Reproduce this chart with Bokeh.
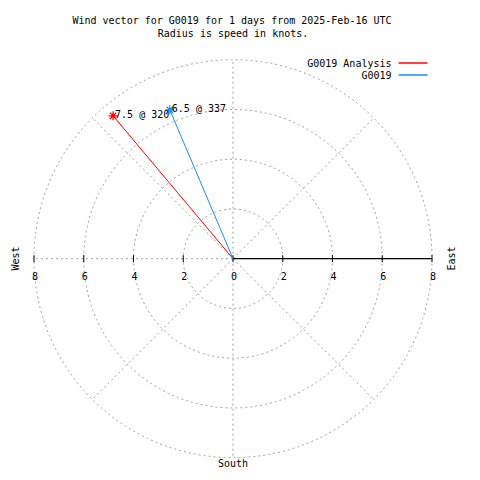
import math
from bokeh.plotting import figure
from bokeh.models import Range1d
from bokeh.core.properties import value
from bokeh.embed import file_html
from bokeh.resources import INLINE

# ---- data ----
series_names = ["G0019 Analysis", "G0019"]
speeds = [7.5, 6.5]          # knots
directions = [320, 337]      # degrees clockwise from north
colors = ["#ff0000", "#1a8cff"]
ring_radii = [2, 4, 6, 8]
spoke_angles = [0, 45, 135, 180, 225, 270, 315]
tick_values = [-8, -6, -4, -2, 0, 2, 4, 6, 8]
tick_labels = ["8", "6", "4", "2", "0", "2", "4", "6", "8"]
title_lines = ["Wind vector for G0019 for 1 days from 2025-Feb-16 UTC",
               "Radius is speed in knots."]
rmax = 8

# ---- layout (reference pixel -> data mapping) ----
W = H = 472
M = 0
cx_ref, cy_ref = 232.5, 258.2
k = 24.875  # pixels per knot

def X(px):
    return (px - cx_ref) / k

def Y(py):
    return (cy_ref - py) / k

FONT = value("DejaVu Sans Mono")
FS = value("10px")
GRID = "#a0a0a0"

p = figure(width=W, height=H, output_backend="svg", toolbar_location=None,
           x_range=Range1d(X(M), X(M + W)), y_range=Range1d(Y(M + H), Y(M)),
           x_axis_location=None, y_axis_location=None, min_border=0,
           background_fill_color="white", border_fill_color="white")
p.outline_line_color = None
p.xgrid.visible = False
p.ygrid.visible = False

# rings
p.circle(x=[0] * len(ring_radii), y=[0] * len(ring_radii), radius=ring_radii,
         fill_color=None, line_color=GRID, line_dash="2 3", line_width=1)

# spokes
sx = [rmax * math.sin(math.radians(a)) for a in spoke_angles]
sy = [rmax * math.cos(math.radians(a)) for a in spoke_angles]
p.segment(x0=[0] * len(sx), y0=[0] * len(sy), x1=sx, y1=sy,
          line_color=GRID, line_dash="2 3", line_width=1)

# east axis (solid) and ticks
p.segment(x0=[0], y0=[0], x1=[rmax], y1=[0], line_color="black", line_width=1.2)
p.segment(x0=tick_values, y0=[-3.5 / k] * len(tick_values),
          x1=tick_values, y1=[3.5 / k] * len(tick_values),
          line_color="black", line_width=1)
p.text(x=tick_values, y=[0] * len(tick_values), text=tick_labels,
       x_offset=1, y_offset=13, text_align="center", text_baseline="top",
       text_font=FONT, text_font_size=FS, text_color="black")

# wind vectors
vx = [s * math.sin(math.radians(d)) for s, d in zip(speeds, directions)]
vy = [s * math.cos(math.radians(d)) for s, d in zip(speeds, directions)]
p.segment(x0=[0] * len(vx), y0=[0] * len(vy), x1=vx, y1=vy,
          line_color=colors, line_width=1)
p.scatter(x=vx, y=vy, marker="asterisk", size=9, line_color=colors, line_width=1.3)
p.text(x=vx, y=vy, text=[f"{s} @ {d}" for s, d in zip(speeds, directions)],
       x_offset=2, y_offset=-1, text_align="left", text_baseline="middle",
       text_font=FONT, text_font_size=FS, text_color="black")

# compass words
p.text(x=[X(15), X(451)], y=[Y(258), Y(258)], text=["West", "East"],
       angle=math.pi / 2, text_align="center", text_baseline="middle",
       text_font=FONT, text_font_size=FS, text_color="black")
p.text(x=[0], y=[Y(463)], text=["South"], text_align="center",
       text_baseline="middle", text_font=FONT, text_font_size=FS, text_color="black")

# title
p.text(x=[X(231.5), X(232.5)], y=[Y(20), Y(33)], text=title_lines,
       text_align="center", text_baseline="middle",
       text_font=FONT, text_font_size=FS, text_color="black")

# legend (text left of line, gnuplot style)
leg_y = [Y(62.5), Y(74.5)]
p.text(x=[X(391)] * 2, y=leg_y, text=series_names, text_align="right",
       text_baseline="middle", text_font=FONT, text_font_size=FS, text_color="black")
for yy, c in zip(leg_y, colors):
    p.line(x=[X(398), X(427)], y=[yy, yy], line_color=c, line_width=1.5)

open("out.html", "w").write(file_html(p, INLINE))
